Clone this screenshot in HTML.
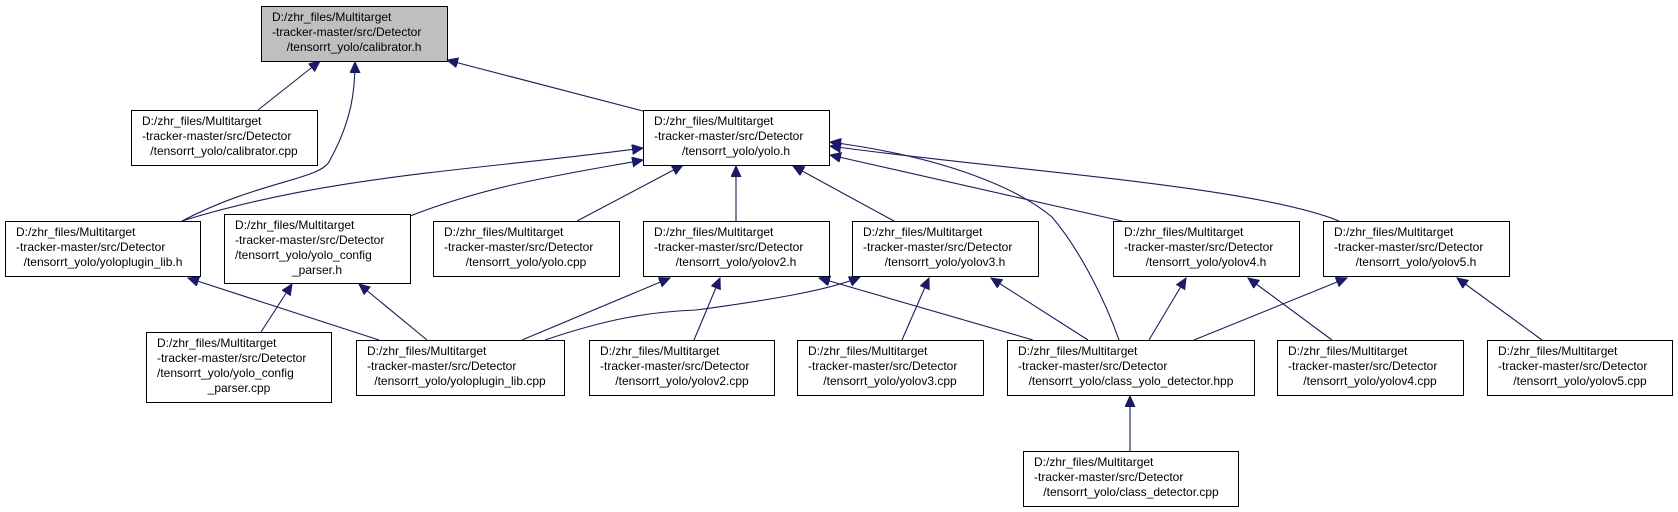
<!DOCTYPE html>
<html><head><meta charset="utf-8"><style>
html,body{margin:0;padding:0;background:#fff;}
svg{display:block;}
text{font-family:"Liberation Sans",Arial,sans-serif;font-size:12px;fill:#000;}
</style></head><body>
<svg width="1678" height="512" viewBox="0 0 1678 512" xmlns="http://www.w3.org/2000/svg">
<defs>
<marker id="a" markerUnits="userSpaceOnUse" markerWidth="12" markerHeight="12" refX="11" refY="5" orient="auto">
<path d="M0,0 L11,5 L0,10 Z" fill="#191970" stroke="#191970"/>
</marker>
</defs>
<g fill="none" stroke="#191970" stroke-width="1.1" marker-end="url(#a)">
<path d="M258,110 L320,61"/>
<path d="M182,221 C260,180 322,180 330,160 C352,120 355,90 355,62"/>
<path d="M643,111 L447,60"/>
<path d="M182,221 C330,175 480,170 643,148"/>
<path d="M410,216 C490,185 560,175 643,160"/>
<path d="M577,221 L683,165"/>
<path d="M736,221 L736,166"/>
<path d="M894,221 L793,166"/>
<path d="M1119,340 C1105,300 1080,250 1052,217 C1020,190 950,158 830,142"/>
<path d="M1122,221 L830,155"/>
<path d="M1339,221 C1250,185 1000,170 830,146"/>
<path d="M261,332 L292,284"/>
<path d="M427,340 L359,284"/>
<path d="M379,340 L188,278"/>
<path d="M522,340 L670,278"/>
<path d="M545,340 C610,318 650,312 696,310 C770,300 830,290 860,277"/>
<path d="M694,340 L720,278"/>
<path d="M1033,340 L819,278"/>
<path d="M902,340 L929,278"/>
<path d="M1088,340 L991,278"/>
<path d="M1149,340 L1186,278"/>
<path d="M1332,340 L1248,278"/>
<path d="M1194,340 L1347,278"/>
<path d="M1542,340 L1457,278"/>
<path d="M1130,451 L1130,396"/>
</g>
<g stroke="#000" stroke-width="1">
<rect x="261.5" y="6.5" width="186" height="55" fill="#bfbfbf"/>
<rect x="131.5" y="110.5" width="186" height="55" fill="#fff"/>
<rect x="643.5" y="110.5" width="186" height="55" fill="#fff"/>
<rect x="5.5" y="221.5" width="195" height="55" fill="#fff"/>
<rect x="224.5" y="214.5" width="186" height="69" fill="#fff"/>
<rect x="433.5" y="221.5" width="186" height="55" fill="#fff"/>
<rect x="643.5" y="221.5" width="186" height="55" fill="#fff"/>
<rect x="852.5" y="221.5" width="186" height="55" fill="#fff"/>
<rect x="1113.5" y="221.5" width="186" height="55" fill="#fff"/>
<rect x="1323.5" y="221.5" width="186" height="55" fill="#fff"/>
<rect x="146.5" y="332.5" width="185" height="70" fill="#fff"/>
<rect x="356.5" y="340.5" width="208" height="55" fill="#fff"/>
<rect x="589.5" y="340.5" width="185" height="55" fill="#fff"/>
<rect x="797.5" y="340.5" width="186" height="55" fill="#fff"/>
<rect x="1007.5" y="340.5" width="247" height="55" fill="#fff"/>
<rect x="1277.5" y="340.5" width="186" height="55" fill="#fff"/>
<rect x="1487.5" y="340.5" width="185" height="55" fill="#fff"/>
<rect x="1023.5" y="451.5" width="215" height="55" fill="#fff"/>
</g>
<g>
<text x="272" y="21">D:/zhr_files/Multitarget</text><text x="272" y="36">-tracker-master/src/Detector</text><text x="354" y="51" text-anchor="middle">/tensorrt_yolo/calibrator.h</text>
<text x="142" y="125">D:/zhr_files/Multitarget</text><text x="142" y="140">-tracker-master/src/Detector</text><text x="224" y="155" text-anchor="middle">/tensorrt_yolo/calibrator.cpp</text>
<text x="654" y="125">D:/zhr_files/Multitarget</text><text x="654" y="140">-tracker-master/src/Detector</text><text x="736" y="155" text-anchor="middle">/tensorrt_yolo/yolo.h</text>
<text x="16" y="236">D:/zhr_files/Multitarget</text><text x="16" y="251">-tracker-master/src/Detector</text><text x="103" y="266" text-anchor="middle">/tensorrt_yolo/yoloplugin_lib.h</text>
<text x="235" y="229">D:/zhr_files/Multitarget</text><text x="235" y="244">-tracker-master/src/Detector</text><text x="235" y="259">/tensorrt_yolo/yolo_config</text><text x="317" y="274" text-anchor="middle">_parser.h</text>
<text x="444" y="236">D:/zhr_files/Multitarget</text><text x="444" y="251">-tracker-master/src/Detector</text><text x="526" y="266" text-anchor="middle">/tensorrt_yolo/yolo.cpp</text>
<text x="654" y="236">D:/zhr_files/Multitarget</text><text x="654" y="251">-tracker-master/src/Detector</text><text x="736" y="266" text-anchor="middle">/tensorrt_yolo/yolov2.h</text>
<text x="863" y="236">D:/zhr_files/Multitarget</text><text x="863" y="251">-tracker-master/src/Detector</text><text x="945" y="266" text-anchor="middle">/tensorrt_yolo/yolov3.h</text>
<text x="1124" y="236">D:/zhr_files/Multitarget</text><text x="1124" y="251">-tracker-master/src/Detector</text><text x="1206" y="266" text-anchor="middle">/tensorrt_yolo/yolov4.h</text>
<text x="1334" y="236">D:/zhr_files/Multitarget</text><text x="1334" y="251">-tracker-master/src/Detector</text><text x="1416" y="266" text-anchor="middle">/tensorrt_yolo/yolov5.h</text>
<text x="157" y="347">D:/zhr_files/Multitarget</text><text x="157" y="362">-tracker-master/src/Detector</text><text x="157" y="377">/tensorrt_yolo/yolo_config</text><text x="239" y="392" text-anchor="middle">_parser.cpp</text>
<text x="367" y="355">D:/zhr_files/Multitarget</text><text x="367" y="370">-tracker-master/src/Detector</text><text x="460" y="385" text-anchor="middle">/tensorrt_yolo/yoloplugin_lib.cpp</text>
<text x="600" y="355">D:/zhr_files/Multitarget</text><text x="600" y="370">-tracker-master/src/Detector</text><text x="682" y="385" text-anchor="middle">/tensorrt_yolo/yolov2.cpp</text>
<text x="808" y="355">D:/zhr_files/Multitarget</text><text x="808" y="370">-tracker-master/src/Detector</text><text x="890" y="385" text-anchor="middle">/tensorrt_yolo/yolov3.cpp</text>
<text x="1018" y="355">D:/zhr_files/Multitarget</text><text x="1018" y="370">-tracker-master/src/Detector</text><text x="1131" y="385" text-anchor="middle">/tensorrt_yolo/class_yolo_detector.hpp</text>
<text x="1288" y="355">D:/zhr_files/Multitarget</text><text x="1288" y="370">-tracker-master/src/Detector</text><text x="1370" y="385" text-anchor="middle">/tensorrt_yolo/yolov4.cpp</text>
<text x="1498" y="355">D:/zhr_files/Multitarget</text><text x="1498" y="370">-tracker-master/src/Detector</text><text x="1580" y="385" text-anchor="middle">/tensorrt_yolo/yolov5.cpp</text>
<text x="1034" y="466">D:/zhr_files/Multitarget</text><text x="1034" y="481">-tracker-master/src/Detector</text><text x="1131" y="496" text-anchor="middle">/tensorrt_yolo/class_detector.cpp</text>
</g>
</svg>
</body></html>
